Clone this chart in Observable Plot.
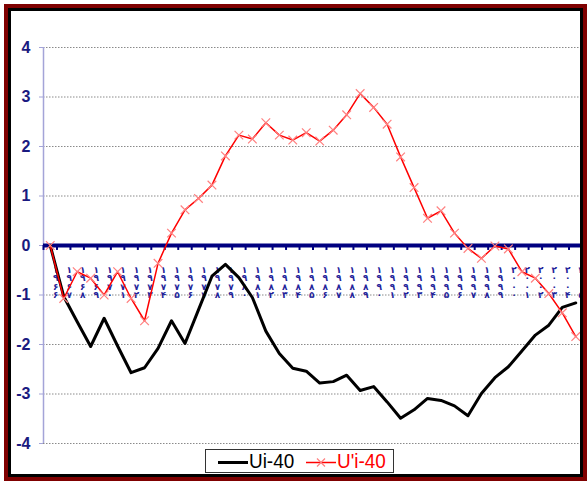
<!DOCTYPE html>
<html>
<head>
<meta charset="utf-8">
<script src="https://cdn.jsdelivr.net/npm/d3@7"></script>
<script src="https://cdn.jsdelivr.net/npm/@observablehq/plot@0.6"></script>
<style>
  html, body { margin: 0; padding: 0; background: #fff; }
  #wrap { position: relative; width: 587px; height: 482px; overflow: hidden; background: #fff; }
  #chart { position: absolute; left: 0; top: 0; }
  #frame-red { position: absolute; left: 4px; top: 4px; right: 0px; bottom: 1px; border: 4px solid #7f0000; box-sizing: border-box; pointer-events: none; }
  #frame-black { position: absolute; left: 8px; top: 8px; right: 4px; bottom: 5px; border: 3px solid #000; box-sizing: border-box; pointer-events: none; }
  #legend { position: absolute; left: 205px; top: 449px; width: 189px; height: 24px; box-sizing: border-box;
            border: 1px solid #333; background: #fff; font-family: "Liberation Sans Narrow", "Arial Narrow", "Liberation Sans", Arial, sans-serif; font-size: 21px; }
  .item { position: absolute; top: 0; height: 22px; line-height: 22px; white-space: nowrap; }
  .item svg { position: absolute; top: 0; left: 0; }
  .item span { position: absolute; top: 0; transform: scaleX(0.9); transform-origin: 0 50%; }
</style>
</head>
<body>
<div id="wrap">
  <div id="chart"></div>
  <div id="legend"></div>
  <div id="frame-red"></div>
  <div id="frame-black"></div>
</div>
<script>
// Categories: years (shown as Persian digits, stacked vertically)
const years = [1966,1967,1968,1969,1970,1971,1972,1973,1974,1975,
               1976,1977,1978,1979,1980,1981,1982,1983,1984,1985,
               1986,1987,1988,1989,1990,1991,1992,1993,1994,1995,
               1996,1997,1998,1999,2000,2001,2002,2003,2004,2005];

// Series "Ui-40" (black)
const ui40 = [0, -1.03, -1.54, -2.04, -1.47, -2.03, -2.57, -2.47, -2.08, -1.52,
              -1.98, -1.30, -0.62, -0.38, -0.65, -1.05, -1.73, -2.18, -2.48, -2.54,
              -2.78, -2.75, -2.62, -2.93, -2.85, -3.16, -3.49, -3.32, -3.09, -3.13,
              -3.24, -3.44, -2.99, -2.67, -2.45, -2.13, -1.81, -1.61, -1.25, -1.16];

// Series "U'i-40" (red with x markers)
const upi40 = [0, -1.07, -0.53, -0.66, -1.00, -0.53, -1.07, -1.52, -0.36, 0.25,
               0.72, 0.95, 1.22, 1.81, 2.23, 2.15, 2.48, 2.23, 2.13, 2.28,
               2.11, 2.33, 2.64, 3.07, 2.79, 2.45, 1.79, 1.17, 0.55, 0.70,
               0.25, -0.06, -0.26, -0.01, -0.07, -0.53, -0.66, -0.97, -1.36, -1.84];

// Y tick labels
const yTicks = [-4, -3, -2, -1, 0, 1, 2, 3, 4];

const seriesNames = ["Ui-40", "U'i-40"];
const seriesColors = ["#000000", "#ff0000"];

const faDigits = "۰۱۲۳۴۵۶۷۸۹";
const toFa = s => String(s).replace(/[0-9]/g, d => faDigits[+d]);
const stacked = y => toFa(y).split("").join("\n");

const data = years.map((yr, i) => ({yr, ui: ui40[i], up: upi40[i]}));
const x0 = years[0] - 0.5, x1 = years[years.length - 1] + 0.5;
const bounds = years.map(y => y - 0.5).concat([x1]);

const navy = "#1a1a80";
const lav = "#a4a4d8";

const chart = Plot.plot({
  width: 587,
  height: 482,
  marginLeft: 43,
  marginRight: 5,
  marginTop: 47,
  marginBottom: 39,
  style: {background: "transparent", fontFamily: "Liberation Sans, Arial, sans-serif"},
  x: {type: "linear", domain: [x0, x1], axis: null},
  y: {domain: [-4, 4], axis: null},
  marks: [
    Plot.ruleY(yTicks.filter(d => d !== 0), {stroke: "#8a8a8a", strokeWidth: 1, strokeDasharray: "1.5,1.5"}),
    Plot.ruleX([x0], {y1: -4, y2: 4, stroke: lav, strokeWidth: 1.5}),
    Plot.axisY(yTicks, {anchor: "left", tickSize: 4, stroke: lav, tickFormat: () => ""}),
    Plot.text(yTicks, {x: () => x0, y: d => d, text: d => String(d), dx: -13, textAnchor: "end",
                       fontSize: 16, fontWeight: "bold", fill: navy, fontFamily: "Liberation Sans, Arial, sans-serif"}),
    Plot.text(data, {x: "yr", y: () => 0, text: d => stacked(d.yr), dx: 5.5, dy: 21,
                     lineAnchor: "top", lineHeight: 0.95, fontSize: 9, fill: "#24249a",
                     fontFamily: "DejaVu Sans", fontWeight: "bold"}),
    Plot.ruleY([0], {stroke: "#000080", strokeWidth: 4}),
    Plot.ruleX(bounds, {x: d => d, y1: 0, y2: -0.1, stroke: "#000080", strokeWidth: 2}),
    Plot.line(data, {x: "yr", y: "ui", stroke: seriesColors[0], strokeWidth: 3}),
    Plot.line(data, {x: "yr", y: "up", stroke: seriesColors[1], strokeWidth: 1.5}),
    Plot.dot(data, {x: "yr", y: "up", symbol: "times", stroke: "#ff8080", strokeWidth: 1.2, r: 4})
  ]
});
document.getElementById("chart").appendChild(chart);

// Legend
const legend = document.getElementById("legend");
const items = [
  {name: seriesNames[0], color: seriesColors[0], left: 12, lineW: 30, sw: 3, marker: false},
  {name: seriesNames[1], color: seriesColors[1], left: 100, lineW: 30, sw: 1.5, marker: true}
];
for (const it of items) {
  const div = document.createElement("div");
  div.className = "item";
  div.style.left = it.left + "px";
  div.innerHTML = `<svg width="${it.lineW}" height="22"><line x1="0" x2="${it.lineW}" y1="12.5" y2="12.5" stroke="${it.color}" stroke-width="${it.sw}"/>` +
    (it.marker ? `<path d="M${it.lineW/2-4},8.5L${it.lineW/2+4},16.5M${it.lineW/2-4},16.5L${it.lineW/2+4},8.5" stroke="#ff8080" stroke-width="1.2"/>` : "") +
    `</svg><span style="left:${it.lineW + 1}px;color:${it.color}">${it.name}</span>`;
  legend.appendChild(div);
}
</script>
</body>
</html>
